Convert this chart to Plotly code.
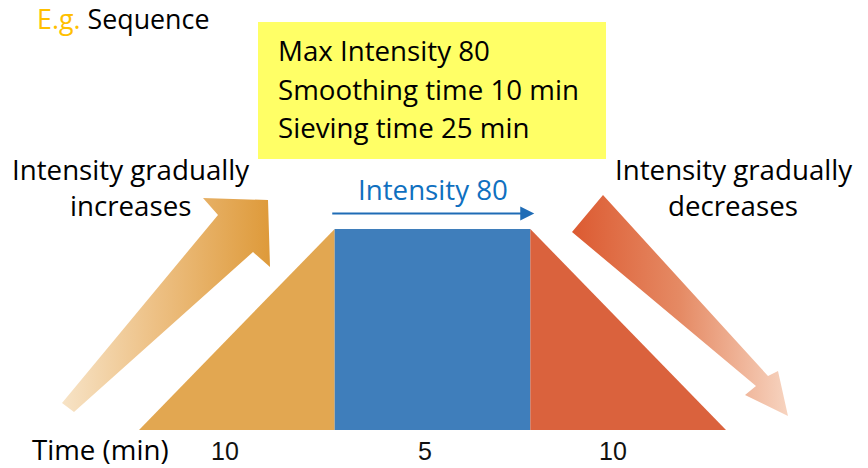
import plotly.graph_objects as go

# Sieving sequence: ramp up, hold at max intensity, ramp down
phases = ["Ramp up", "Hold", "Ramp down"]
durations_min = [10, 5, 10]
max_intensity = 80
phase_colors = ["#E2A751", "#3F7EBB", "#DA623D"]

settings = ["Max Intensity 80", "Smoothing time 10 min", "Sieving time 25 min"]

W, H = 868, 468
FONT = "Open Sans"
FS = 27.7

# Each phase takes one unit of width on the x axis; y is the intensity.
px_per_x = (726 - 139) / 3.0
px_per_y = (430 - 229) / 80.0
x_range = [-139 / px_per_x, (W - 139) / px_per_x]
y_range = [-(H - 430) / px_per_y, 430 / px_per_y]

fig = go.Figure()

# Phase profile: intensity at the start and end of each phase
levels = [(0, max_intensity), (max_intensity, max_intensity), (max_intensity, 0)]
for i, (name, (y0, y1)) in enumerate(zip(phases, levels)):
    fig.add_trace(go.Scatter(
        x=[i, i + 1, i + 1, i, i], y=[0, 0, y1, y0, 0],
        mode="lines", fill="toself", fillcolor=phase_colors[i],
        line=dict(width=0), name=name, hoverinfo="name",
        xaxis="x", yaxis="y"))

# Decorative gradient arrows (pixel overlay axes x2/y2)
up_arrow = [(62, 403), (218, 215), (203, 198), (268, 200), (270, 267), (253, 252), (74, 412)]
down_arrow = [(603, 195), (768, 376), (778, 371), (788, 416), (745, 395), (756, 386), (572, 232)]

def add_arrow(pts, scale):
    xs = [p[0] for p in pts] + [pts[0][0]]
    ys = [p[1] for p in pts] + [pts[0][1]]
    fig.add_trace(go.Scatter(
        x=xs, y=ys, mode="lines", fill="toself",
        fillgradient=dict(type="horizontal", colorscale=scale),
        line=dict(width=0), hoverinfo="skip", xaxis="x2", yaxis="y2"))

add_arrow(up_arrow, [[0, "#F7E3C6"], [0.45, "#EDC084"], [1, "#DE9A3A"]])
add_arrow(down_arrow, [[0, "#DC5A31"], [0.5, "#E58A64"], [1, "#F7D4C0"]])

annotations = []

def label(text, x, y, size, color="#000000", xanchor="center", ref="2", **kw):
    annotations.append(dict(
        text=text, x=x, y=y, xref="x" + ref, yref="y" + ref,
        xanchor=xanchor, yanchor="middle", showarrow=False,
        font=dict(family=FONT, size=size, color=color), **kw))

label("<span style='color:#FFC000'>E.g.</span> Sequence", 35, 18.5, 26.8, xanchor="left")

# Settings box
for i, line in enumerate(settings):
    label(line, 276, 50 + i * 38.5, FS, xanchor="left")

label("Intensity gradually", 130, 169, FS)
label("increases", 130, 205, FS)
label("Intensity gradually", 733, 169, FS)
label("decreases", 733, 205, FS)

# Hold-phase arrow and its label
annotations.append(dict(
    x=2.02, y=max_intensity + 6.2, ax=0.98, ay=max_intensity + 6.2,
    xref="x", yref="y", axref="x", ayref="y", text="",
    showarrow=True, arrowhead=2, arrowsize=1.4, arrowwidth=2, arrowcolor="#1F6CB6"))
label(f"Intensity {max_intensity}", 1.5, max_intensity + 15.8, FS,
      color="#0F70C0", ref="")

# Time axis row
label("Time (min)", 100, 449, FS)
for i, d in enumerate(durations_min):
    annotations.append(dict(
        text=str(d), x=i + 0.5, y=-8.5, xref="x", yref="y",
        xshift=[-12, -8, -15][i], showarrow=False, yanchor="middle",
        font=dict(family="Liberation Sans Narrow, Liberation Sans, Arial", size=25,
                  color="#111111")))

fig.update_layout(
    width=W, height=H, margin=dict(l=0, r=0, t=0, b=0),
    paper_bgcolor="white", plot_bgcolor="white", showlegend=False,
    xaxis=dict(range=x_range, visible=False, fixedrange=True),
    yaxis=dict(range=y_range, visible=False, fixedrange=True),
    xaxis2=dict(range=[0, W], visible=False, overlaying="x", fixedrange=True),
    yaxis2=dict(range=[H, 0], visible=False, overlaying="y", fixedrange=True),
    shapes=[dict(type="rect", xref="x2", yref="y2", x0=258, x1=606, y0=22, y1=159,
                 fillcolor="#FFFF66", line=dict(width=0), layer="below")],
    annotations=annotations,
)

fig.write_html("out.html", config={"displayModeBar": False})
